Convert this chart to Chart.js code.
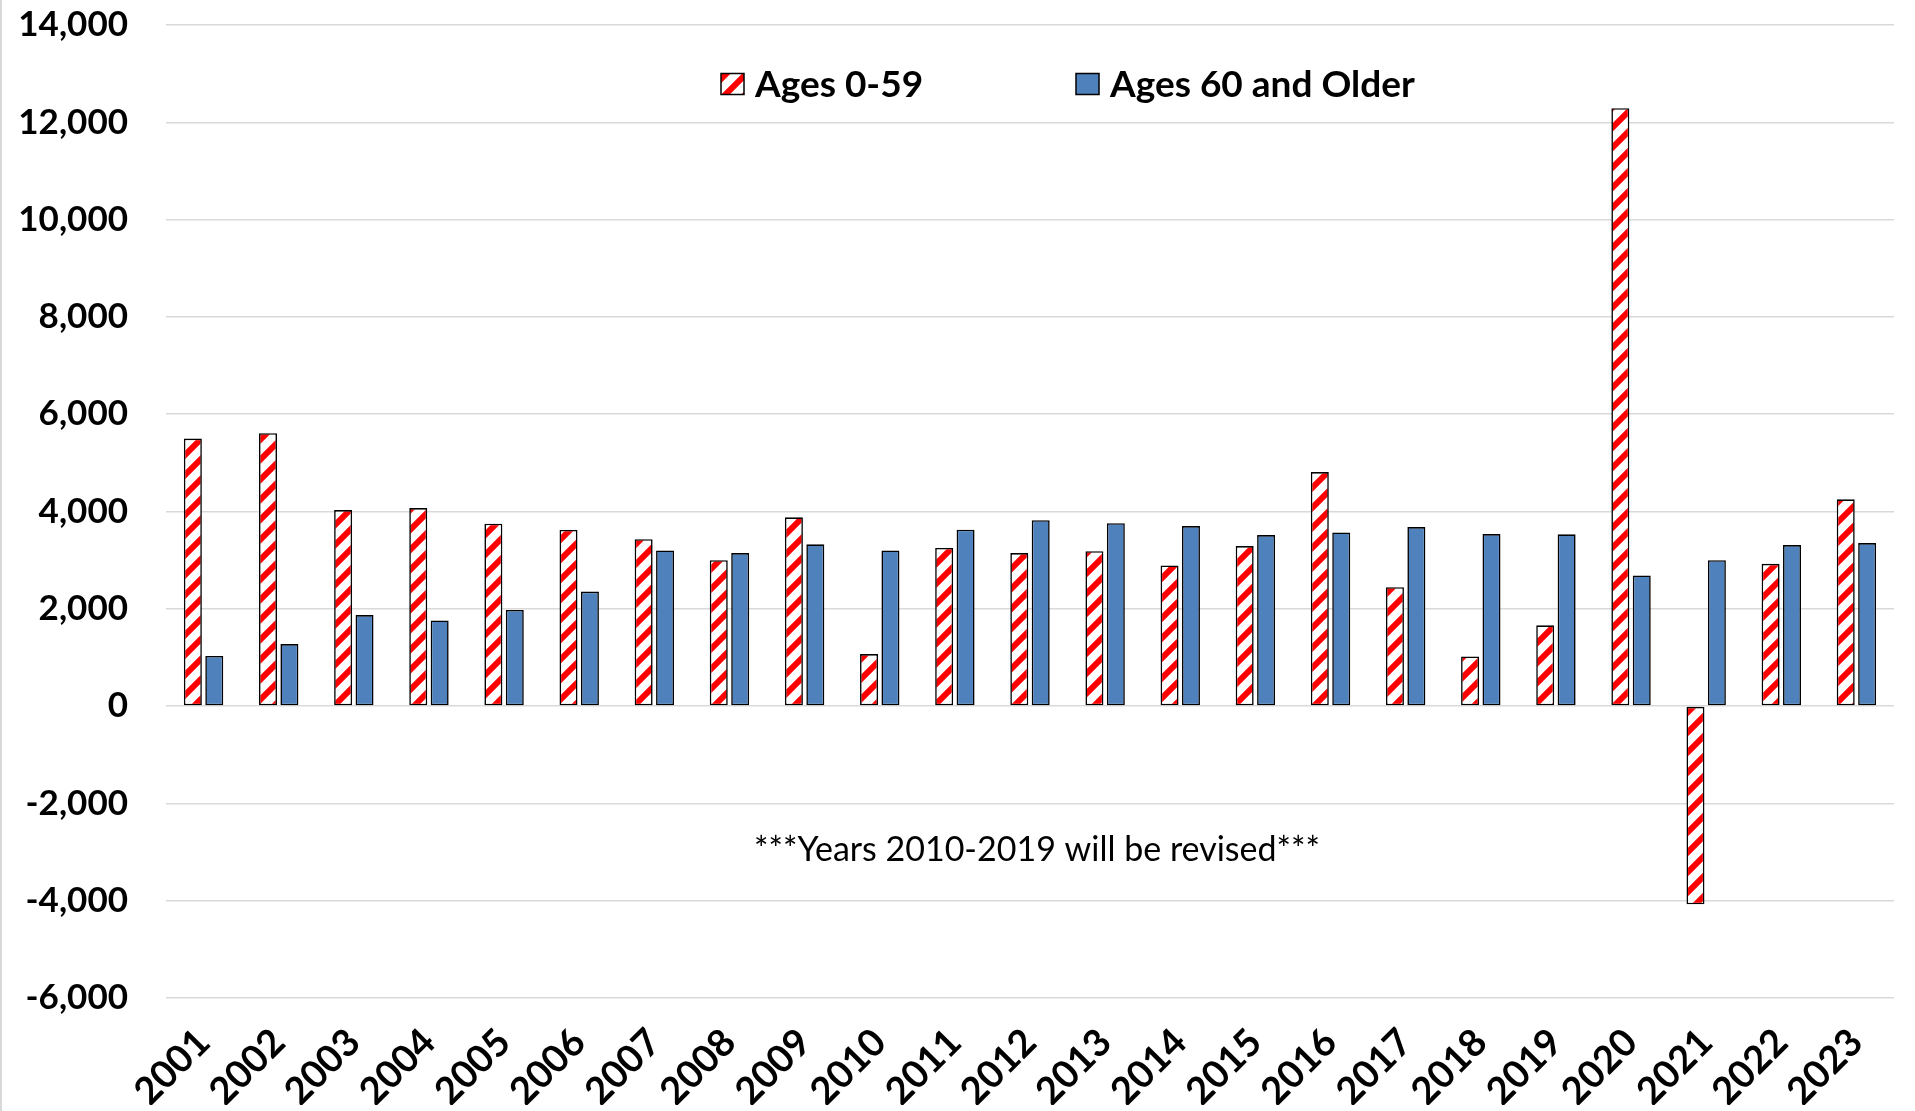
<!DOCTYPE html>
<html>
<head>
<meta charset="utf-8">
<script src="https://cdn.jsdelivr.net/npm/chart.js@4.4.0/dist/chart.umd.min.js"></script>
<style>
html,body{margin:0;padding:0;background:#fff;overflow:hidden;}
#wrap{position:relative;width:1915px;height:1111px;}
#edge{position:absolute;left:0;top:0;width:2px;height:1111px;background:#d9d9d9;z-index:2;}
canvas{display:block;}
</style>
</head>
<body>
<div id="wrap"><div id="edge"></div><canvas id="c"></canvas></div>
<script>
// ---- data ----
const years = ['2001','2002','2003','2004','2005','2006','2007','2008','2009','2010','2011','2012',
               '2013','2014','2015','2016','2017','2018','2019','2020','2021','2022','2023'];
const ages0to59 = [5500, 5610, 4030, 4070, 3750, 3620, 3430, 3000, 3880, 1070, 3250, 3145,
                   3185, 2890, 3290, 4810, 2445, 1020, 1660, 12290, -4075, 2925, 4250];
const ages60plus = [1030, 1275, 1870, 1760, 1975, 2355, 3200, 3145, 3325, 3200, 3625, 3820,
                    3760, 3700, 3515, 3570, 3680, 3535, 3530, 2685, 3000, 3310, 3350];
const seriesNames = ['Ages 0-59', 'Ages 60 and Older'];
const yTickMin = -6000, yTickMax = 14000, yTickStep = 2000;
const noteText = '***Years 2010-2019 will be revised***';
const noteValue = -2950;

// ---- styles ----
const FONT = 'Lato';
const BLUE = '#4F81BD';
const RED = '#FF0000';

function stripePattern() {
  const s = 20;
  const c = document.createElement('canvas');
  c.width = s; c.height = s;
  const g = c.getContext('2d');
  g.fillStyle = '#ffffff';
  g.fillRect(0, 0, s, s);
  g.strokeStyle = RED;
  g.lineWidth = 6;
  g.beginPath();
  g.moveTo(-5, s + 5); g.lineTo(s + 5, -5);
  g.moveTo(-5, 5); g.lineTo(5, -5);
  g.moveTo(s - 5, s + 5); g.lineTo(s + 5, s - 5);
  g.stroke();
  return g.createPattern(c, 'repeat');
}
const stripes = stripePattern();

const canvas = document.getElementById('c');
canvas.width = 1915; canvas.height = 1111;
canvas.style.width = '1915px'; canvas.style.height = '1111px';

const legendPlugin = {
  id: 'customLegend',
  afterDatasetsDraw(chart) {
    const ctx = chart.ctx;
    const items = [
      {x: 721, fill: stripes, text: seriesNames[0]},
      {x: 1076, fill: BLUE, text: seriesNames[1]}
    ];
    const cy = 84, bw = 23, bh = 21;
    ctx.save();
    ctx.font = 'bold 37px ' + FONT;
    ctx.textBaseline = 'middle';
    items.forEach(it => {
      ctx.fillStyle = it.fill;
      ctx.fillRect(it.x, cy - bh / 2, bw, bh);
      ctx.strokeStyle = '#000';
      ctx.lineWidth = 1.5;
      ctx.strokeRect(it.x, cy - bh / 2, bw, bh);
      ctx.fillStyle = '#000';
      ctx.fillText(it.text, it.x + bw + 11, cy + 1);
    });
    ctx.restore();
  }
};

const notePlugin = {
  id: 'note',
  afterDatasetsDraw(chart) {
    const ctx = chart.ctx;
    const a = chart.chartArea;
    const y = chart.scales.y.getPixelForValue(noteValue);
    ctx.save();
    ctx.font = '34px ' + FONT;
    ctx.fillStyle = '#000';
    ctx.textAlign = 'center';
    ctx.textBaseline = 'middle';
    ctx.fillText(noteText, (a.left + a.right) / 2 + 7, y);
    ctx.restore();
  }
};

new Chart(canvas, {
  type: 'bar',
  data: {
    labels: years,
    datasets: [
      {label: seriesNames[0], data: ages0to59, backgroundColor: stripes, borderColor: '#000',
       borderWidth: 1.6, borderSkipped: false},
      {label: seriesNames[1], data: ages60plus, backgroundColor: BLUE, borderColor: '#000',
       borderWidth: 1.6, borderSkipped: false}
    ]
  },
  options: {
    responsive: false,
    animation: false,
    devicePixelRatio: 1,
    layout: {autoPadding: false, padding: {left: 17, right: 21, top: 25, bottom: 6}},
    datasets: {bar: {categoryPercentage: 0.57, barPercentage: 0.84}},
    plugins: {legend: {display: false}, tooltip: {enabled: false}},
    scales: {
      x: {
        grid: {display: false, drawTicks: false},
        border: {display: false},
        afterFit: s => { s.height = 107; s.paddingLeft = 0; s.paddingRight = 0; s.paddingTop = 0; s.paddingBottom = 0; },
        ticks: {
          autoSkip: false, minRotation: 45, maxRotation: 45, padding: 22,
          color: '#000', font: {family: FONT, size: 38, weight: 'bold'}
        }
      },
      y: {
        min: yTickMin, max: yTickMax,
        grid: {color: '#d9d9d9', lineWidth: 1.5, drawTicks: false},
        border: {display: false},
        afterFit: s => { s.width = 149; s.paddingLeft = 0; s.paddingRight = 0; s.paddingTop = 0; s.paddingBottom = 0; },
        ticks: {
          stepSize: yTickStep, padding: 38, color: '#000',
          font: {family: FONT, size: 35, weight: 'bold'},
          callback: v => v.toLocaleString('en-US')
        }
      }
    }
  },
  plugins: [legendPlugin, notePlugin]
});
</script>
</body>
</html>
